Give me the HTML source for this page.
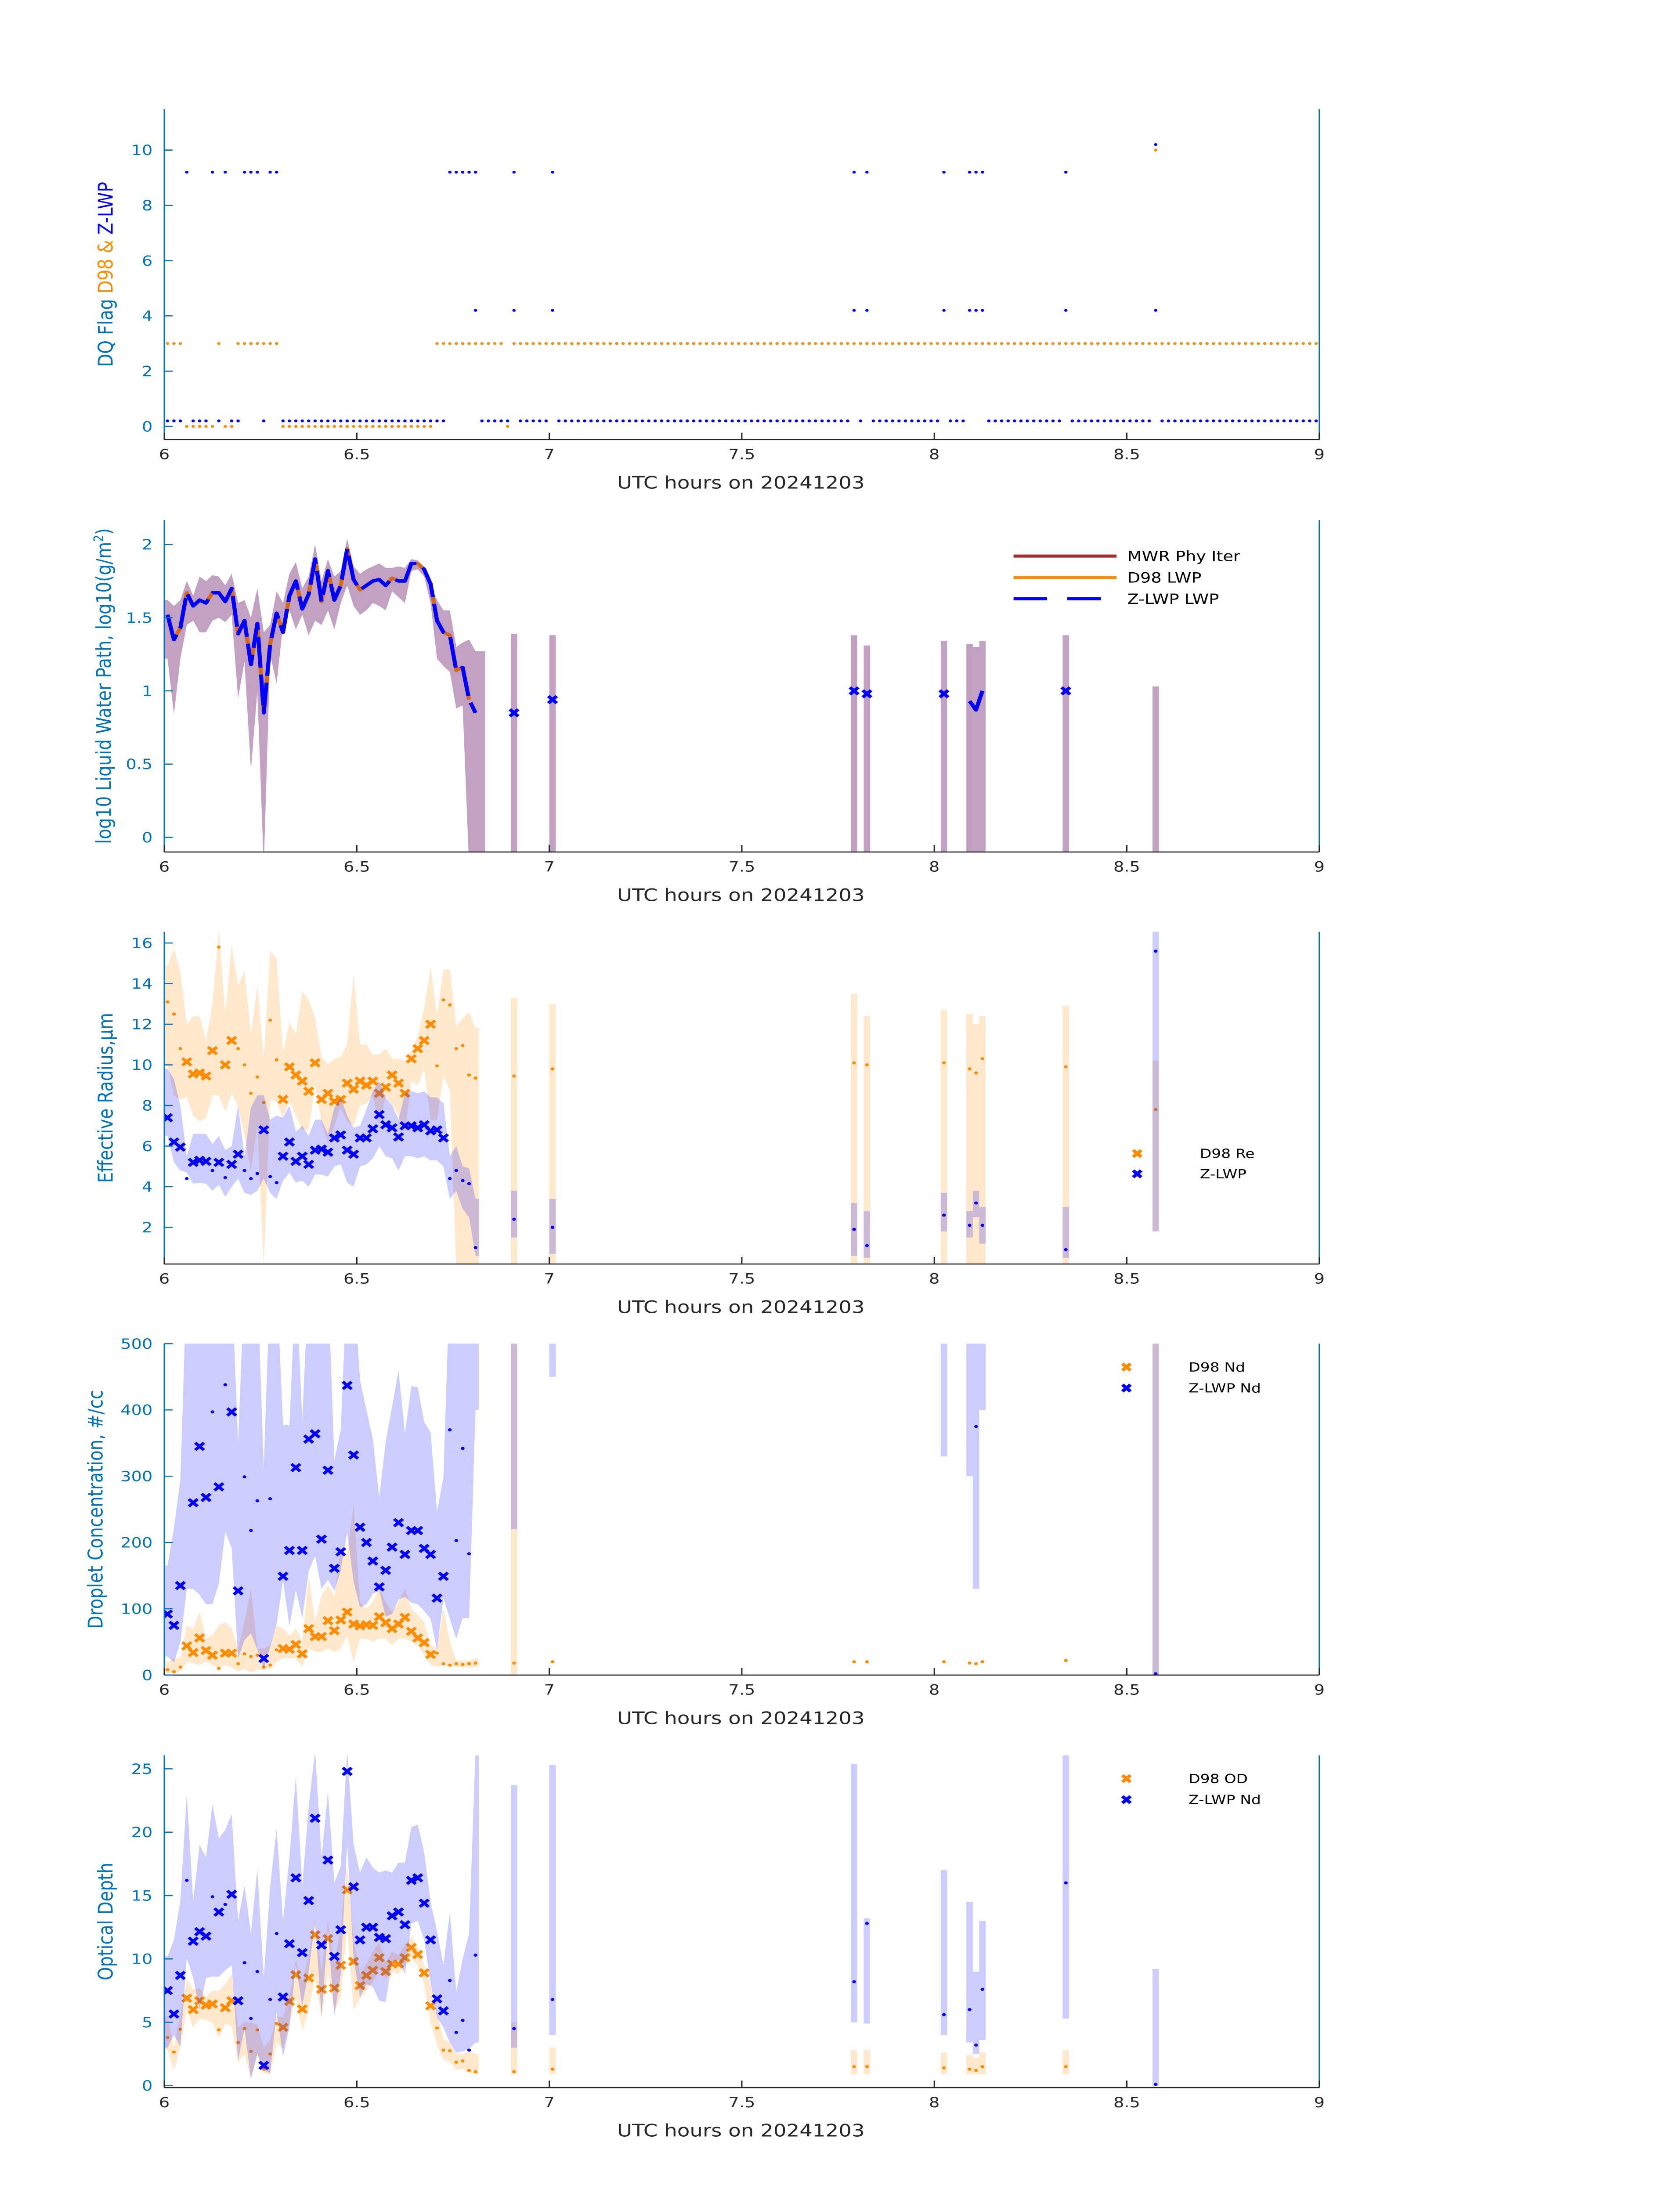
<!DOCTYPE html>
<html><head><meta charset="utf-8"><title>DQ / LWP / Re / Nd / OD</title>
<meta name="viewport" content="width=3825">
<style>
html,body{margin:0;padding:0;background:#fff;width:100vw;height:100vh;overflow:hidden;}
#wrap{position:fixed;left:0;top:0;width:100vw;height:100vh;overflow:hidden;}
svg{display:block;position:absolute;left:0;top:0;width:100vw;height:100vh;font-family:"DejaVu Sans","Liberation Sans",sans-serif;}
</style></head>
<body>
<div id="wrap">
<svg id="fig" xmlns="http://www.w3.org/2000/svg" viewBox="0 0 1000 1568.63" preserveAspectRatio="none">
<rect x="0" y="0" width="1000" height="1568.63" fill="#fff"/>
</svg>
</div>
<script>
// ---------- data (index i -> time 6 + (i+0.5)/60 hours) ----------
const d98FlagRuns = [[3,3],[0,5],[3,1],[0,2],[3,7],[0,24],[3,11],[0,1],[3,126],[2,1]];
const zlwpFlagRuns = [[0.2,3],[9.2,1],[0.2,3],[9.2,1],[0.2,1],[9.2,1],[0.2,2],[9.2,3],[0.2,1],[9.2,2],[0.2,26],[9.2,5],[0.2,5],[9.2,1],[0.2,5],[9.2,1],[0.2,46],[9.2,1],[0.2,1],[9.2,1],[0.2,11],[9.2,1],[0.2,3],[9.2,3],[0.2,12],[9.2,1],[0.2,13],[10.2,1],[0.2,26]];
const zlwpFlag2Idx = [48,54,60,107,109,121,125,126,127,140,154];
const zlwpFlag2Val = [4.2,4.2,4.2,4.2,4.2,4.2,4.2,4.2,4.2,4.2,4.2];
const d98FlagExtraIdx = [154];
const d98FlagExtraVal = [10.0];

const isoIdx = [54,60,107,109,121,125,126,127,140,154];

const lwp = [1.52,1.35,1.43,1.67,1.58,1.62,1.60,1.67,1.67,1.61,1.70,1.39,1.48,1.18,1.46,0.85,1.32,1.53,1.40,1.65,1.75,1.56,1.66,1.90,1.61,1.82,1.62,1.72,1.97,1.76,1.69,1.72,1.75,1.76,1.72,1.77,1.75,1.75,1.87,1.87,1.83,1.73,1.48,1.40,1.38,1.14,1.16,0.94,0.85];
const lwpIso = [0.85,0.94,1.0,0.98,0.98,0.93,0.87,1.0,1.0,null];
const lwpUp = [1.62,1.58,1.62,1.75,1.65,1.78,1.75,1.79,1.78,1.72,1.8,1.6,1.62,1.5,1.7,1.4,1.45,1.68,1.6,1.8,1.88,1.7,1.78,2.0,1.75,1.9,1.78,1.82,2.04,1.85,1.8,1.83,1.85,1.87,1.84,1.84,1.85,1.84,1.9,1.89,1.84,1.72,1.62,1.55,1.55,1.3,1.33,1.35,1.27,1.27];
const lwpLo = [1.22,0.84,1.22,1.45,1.48,1.40,1.40,1.48,1.5,1.47,1.52,0.95,1.2,0.46,1.0,-0.2,1.25,1.05,1.45,1.55,1.42,1.52,1.38,1.48,1.45,1.55,1.42,1.6,1.72,1.58,1.52,1.55,1.6,1.58,1.55,1.68,1.64,1.6,1.82,1.83,1.78,1.60,1.22,1.17,1.13,0.88,0.9,-0.2,-0.2,-0.2];
const lwpIsoUp = [1.39,1.38,1.38,1.31,1.34,1.32,1.3,1.34,1.38,1.03];
const lwpIsoLo = [-0.2,-0.2,-0.2,-0.2,-0.2,-0.2,-0.2,-0.2,-0.2,-0.2];

const d98Re = [13.1,12.5,10.8,10.15,9.55,9.6,9.45,10.7,15.8,10.0,11.2,10.8,10.0,8.6,9.4,8.15,12.2,10.25,8.3,9.9,9.5,9.2,8.7,10.1,8.3,8.6,8.2,8.3,9.1,8.8,9.2,9.0,9.2,8.6,8.9,9.5,9.1,8.6,10.3,10.8,11.2,12.0,9.95,13.2,12.95,10.8,10.95,9.5,9.35];
const zRe = [7.4,6.2,5.95,4.4,5.2,5.3,5.25,4.8,5.2,4.45,5.1,5.6,4.8,4.4,4.65,6.8,4.5,4.2,5.5,6.2,5.25,5.5,5.1,5.8,5.85,5.7,6.4,6.55,5.8,5.6,6.4,6.4,6.85,7.55,7.05,6.9,6.45,7.0,7.0,6.9,7.05,6.75,6.8,6.4,4.4,4.8,4.3,4.15,1.0];
const d98ReIso = [9.45,9.8,10.1,10.0,10.1,9.8,9.6,10.3,9.9,7.8];
const zReIso = [2.4,2.0,1.9,1.1,2.6,2.1,3.2,2.1,0.9,15.6];
const d98ReUp = [14.9,15.7,14.6,12.0,12.4,12.4,11.2,13.0,16.6,12.5,15.9,13.9,14.6,11.5,13.9,10.3,15.6,15.2,10.6,12.1,11.5,13.6,13.2,12.3,10.4,10.0,10.3,10.4,11.0,14.5,11.0,11.0,10.5,10.5,10.8,10.3,10.3,10.2,10.7,11.4,12.8,14.8,12.4,14.7,14.7,11.9,12.3,12.6,11.8];
const d98ReLo = [10.0,8.5,8.3,8.4,7.5,7.2,7.4,8.5,8.5,7.7,8.6,8.0,6.5,4.8,7.0,0.1,8.3,8.2,7.4,8.2,7.5,6.8,6.8,9.0,7.2,6.2,7.0,7.9,7.2,7.0,8.0,8.1,8.5,7.0,8.5,8.0,7.5,6.7,9.2,9.0,9.8,7.3,7.3,9.5,8.7,0.1,0.1,0.1,0.1];
const d98ReIsoUp = [13.3,13.0,13.5,12.4,12.7,12.5,12.0,12.4,12.9,10.2];
const d98ReIsoLo = [0.1,0.1,0.1,0.1,0.1,0.1,0.1,0.1,0.1,1.8];
const zReUp = [9.8,9.3,8.0,5.5,6.6,6.6,6.6,6.1,6.5,5.8,6.0,8.0,5.5,7.9,8.5,8.5,7.3,7.5,7.4,8.0,6.7,7.0,6.5,7.3,7.3,6.6,7.9,8.4,7.5,6.9,7.0,7.8,8.7,9.2,8.4,8.0,7.3,8.6,8.7,8.6,8.7,8.4,8.4,8.1,5.5,6.0,5.0,4.9,3.4];
const zReLo = [6.5,5.2,4.8,4.7,4.15,4.2,4.15,3.8,4.1,3.5,4.0,4.4,3.7,3.6,3.8,4.4,3.7,3.4,4.3,4.7,4.2,4.3,4.0,4.6,4.6,4.5,5.0,5.1,4.2,4.0,5.0,5.1,5.4,6.0,5.5,5.4,4.8,5.5,5.5,5.4,5.5,5.3,5.3,5.0,3.4,3.8,2.9,2.5,0.6];
const zReIsoUp = [3.8,3.4,3.2,2.8,3.7,2.8,3.8,3.0,3.0,16.6];
const zReIsoLo = [1.5,0.7,0.6,0.5,1.8,1.5,2.5,1.2,0.5,1.8];

const zNd = [92,75,135,null,260,345,268,397,284,438,397,127,299,218,263,25,266,null,149,188,313,188,356,364,205,309,161,186,437,332,223,200,172,133,158,193,230,182,218,218,191,182,116,149,370,203,342,183,null];
const d98Nd = [8,5,12,44,34,56,37,30,10,33,33,17,32,28,30,12,15,38,40,39,46,32,70,58,58,82,67,83,95,77,74,76,75,88,79,70,77,87,66,56,49,31,33,17,15,17,16,17,18];
const d98NdIso = [18,20,20,20,20,18,17,20,22,null];
const zNdIso = [null,null,null,null,null,null,375,null,null,2];
const d98NdUp = [20,25,25,75,70,95,55,60,75,80,70,40,80,130,40,40,45,75,70,60,70,50,150,80,120,135,120,190,183,257,110,100,110,130,110,95,110,130,100,90,80,45,40,100,50,22,22,22,25];
const d98NdLo = [3,2,5,20,18,15,20,15,10,15,12,5,10,3,8,8,8,20,25,25,25,12,40,35,35,40,35,40,60,19,55,55,50,55,55,45,55,55,50,45,30,15,12,15,12,12,12,12,12];
const zNdUp = [165,222,294,600,600,600,600,600,600,600,600,349,600,600,600,310,600,600,377,377,600,384,600,600,600,600,324,370,600,600,445,400,356,268,352,405,460,364,436,434,382,366,246,299,600,600,600,600,600];
const zNdLo = [28,19,49,130,130,121,107,107,138,216,192,25,53,63,39,9,42,77,143,74,128,86,157,180,130,144,127,158,216,141,102,107,123,127,88,92,114,118,109,107,97,85,37,116,85,55,86,86,400];
const d98NdIsoUp = [600,null,null,null,null,null,null,null,null,600];
const d98NdIsoLo = [2,null,null,null,null,null,null,null,null,0];
const zNdIsoUp = [600,600,null,null,600,600,600,600,null,600];
const zNdIsoLo = [220,450,null,null,330,300,130,400,null,0];

const zOD = [7.5,5.65,8.7,16.2,11.4,12.15,11.8,14.9,13.7,14.3,15.1,6.7,9.7,5.3,9.0,1.6,6.8,12.0,7.0,11.2,16.4,10.5,14.6,21.1,11.1,17.8,10.2,12.3,24.8,15.7,11.5,12.5,12.5,11.7,11.6,13.4,13.7,12.7,16.2,16.4,14.4,11.5,6.85,5.9,8.3,4.2,5.15,2.8,10.3];
const d98OD = [3.8,2.65,4.45,6.9,6.0,6.7,6.35,6.45,4.4,6.15,6.7,3.4,4.5,2.7,4.4,1.3,2.5,4.9,4.6,6.65,8.75,6.05,8.5,11.9,7.6,11.6,7.7,9.5,15.45,9.8,7.9,8.7,9.1,10.1,9.0,9.6,9.6,10.1,10.9,10.35,8.9,6.3,4.55,2.8,2.75,1.85,1.95,1.2,1.1];
const d98ODIso = [1.1,1.3,1.5,1.5,1.4,1.3,1.2,1.5,1.5,null];
const zODIso = [4.5,6.8,8.2,12.8,5.6,6.0,3.2,7.6,16.0,0.1];
const zODUp = [10.2,11.5,14.6,23.0,14.6,19.0,18.0,22.2,19.5,20.2,21.4,13.0,15.8,12.0,17.1,8.5,15.7,20.3,13.0,18.0,24.4,15.8,22.0,26.5,18.0,23.2,16.0,17.3,26.5,19.0,16.8,18.0,17.2,16.8,17.0,16.8,17.6,17.6,20.4,20.6,18.4,14.5,12.2,9.5,13.7,7.4,10.0,12.0,26.5];
const zODLo = [3.0,4.0,3.1,10.1,8.5,6.0,8.5,8.6,8.6,9.1,9.5,2.0,4.5,0.5,2.5,1.2,1.0,5.8,2.3,4.6,9.5,6.3,9.0,13.0,5.5,12.3,5.5,8.8,19.2,10.0,7.0,8.0,7.8,6.7,6.6,9.8,9.9,8.8,12.8,13.0,11.5,8.1,5.4,4.6,3.4,2.6,2.7,2.9,3.4];
const d98ODUp = [5.5,3.0,5.5,8.4,7.6,7.7,7.0,7.5,7.5,8.0,8.8,4.6,5.0,5.0,4.8,3.0,3.6,5.5,5.4,7.0,9.9,8.1,10.3,13.1,9.0,13.0,9.5,12.5,17.4,11.5,8.8,9.6,10.6,11.3,9.7,10.6,10.3,11.1,11.8,11.0,9.5,7.9,5.7,3.7,3.4,2.5,2.5,2.7,2.5];
const d98ODLo = [2.8,1.2,3.0,6.0,4.6,5.3,5.2,5.0,3.8,4.9,4.7,1.8,2.5,0.6,2.5,1.0,0.9,3.4,2.9,5.0,7.0,4.3,6.0,8.5,5.4,9.0,5.8,7.0,12.5,6.0,6.9,7.5,8.2,9.2,8.5,9.0,8.8,9.5,10.0,9.5,8.0,5.0,3.2,2.0,1.9,1.3,1.3,1.0,0.9];
const zODIsoUp = [23.7,25.3,25.4,13.2,17.0,14.5,9.0,13.0,26.5,9.2];
const zODIsoLo = [3.0,4.0,5.0,4.9,4.0,3.4,2.5,3.6,5.3,0];
const d98ODIsoUp = [5.0,3.0,2.8,2.8,2.6,2.4,2.2,2.6,2.8,null];
const d98ODIsoLo = [0.9,0.9,0.9,0.9,0.9,0.9,0.9,0.9,0.9,null];

const xTicks = [6,6.5,7,7.5,8,8.5,9];
const xTickLabels = ["6","6.5","7","7.5","8","8.5","9"];
const p1Ticks = [0,2,4,6,8,10];
const p2Ticks = [0,0.5,1,1.5,2];
const p2TickLabels = ["0","0.5","1","1.5","2"];
const p3Ticks = [2,4,6,8,10,12,14,16];
const p4Ticks = [0,100,200,300,400,500];
const p5Ticks = [0,5,10,15,20,25];

// ---------- helpers ----------
const NS = "http://www.w3.org/2000/svg";
const svg = document.getElementById('fig');
const BLUE = "#0000ff", ORANGE = "#ff8c00", AXB = "#0072bd", DARK = "#262626";
const X0 = 97.8, X1 = 785.3;
const STEP = (X1 - X0) / 180;
function xs(t){ return X0 + (t - 6) / 3 * (X1 - X0); }
function tOf(i){ return 6 + (i + 0.5) / 60; }
function expandRuns(runs){ const out=[]; runs.forEach(r=>{ for(let k=0;k<r[1];k++) out.push(r[0]); }); return out; }
function mk(tag, attrs, parent){ const e=document.createElementNS(NS,tag); for(const k in attrs) e.setAttribute(k, attrs[k]); parent.appendChild(e); return e; }

const d98Flag = expandRuns(d98FlagRuns);
const zlwpFlag = expandRuns(zlwpFlagRuns);
const defs = mk('defs', {}, svg);

function makePanel(name, top, bottom, a, ya, b, yb, idx){
  const g = mk('g', {}, svg);
  
  
  const cp = mk('clipPath', {id:'clip'+idx}, defs);
  mk('rect', {x:X0, y:top, width:X1-X0, height:bottom-top}, cp);
  const plot = mk('g', {'clip-path':'url(#clip'+idx+')'}, g);
  
  
  return {g, plot, top, bottom, y: v => ya + (v - a) * (yb - ya) / (b - a)};
}

function drawAxes(p, ticks, labels, ylabelParts, ylabelX){
  const g = p.g;
  const ls = mk('line', {x1:X0, y1:p.top, x2:X0, y2:p.bottom, stroke:AXB, 'stroke-width':0.8}, g);
  
  
  const rs = mk('line', {x1:X1, y1:p.top, x2:X1, y2:p.bottom, stroke:AXB, 'stroke-width':0.8}, g);
  
  
  const bs = mk('line', {x1:X0, y1:p.bottom, x2:X1, y2:p.bottom, stroke:DARK, 'stroke-width':0.8}, g);
  
  
  ticks.forEach((v, k) => {
    const yy = p.y(v);
    const tl = mk('line', {x1:X0, y1:yy, x2:X0+5, y2:yy, stroke:AXB, 'stroke-width':0.8}, g);
    
    
    const tx = mk('text', {x:X0-7, y:yy+3.6, 'text-anchor':'end', 'font-size':10, fill:AXB}, g);
    
    
    tx.textContent = labels ? labels[k] : String(v);
  });
  xTicks.forEach((t, k) => {
    const xx = xs(t);
    const tl = mk('line', {x1:xx, y1:p.bottom, x2:xx, y2:p.bottom-5, stroke:DARK, 'stroke-width':0.8}, g);
    
    
    const tx = mk('text', {x:xx, y:p.bottom+14, 'text-anchor':'middle', 'font-size':10, fill:DARK}, g);
    
    
    tx.textContent = xTickLabels[k];
  });
  const xl = mk('text', {x:441, y:p.bottom+35, 'text-anchor':'middle', 'font-size':12.2, fill:DARK}, g);
  
  
  xl.textContent = 'UTC hours on 20241203';
  const cy = (p.top + p.bottom) / 2;
  const yl = mk('text', {x:ylabelX, y:cy, 'text-anchor':'middle', 'font-size':12.2, transform:'rotate(-90 '+ylabelX+' '+cy+')'}, g);
  
  
  ylabelParts.forEach(pt => {
    const ts = mk('tspan', {fill:pt[1]}, yl);
    if (pt[2]) { ts.setAttribute('baseline-shift', 'super'); ts.setAttribute('font-size', '8'); }
    ts.textContent = pt[0];
  });
}

function drawBand(p, up, lo, color, op, name){
  let run = [];
  const flush = () => {
    if (!run.length) return;
    const pts = [];
    const f = run[0], l = run[run.length-1];
    pts.push([xs(tOf(f)) - STEP/2, p.y(up[f])]);
    run.forEach(i => pts.push([xs(tOf(i)), p.y(up[i])]));
    pts.push([xs(tOf(l)) + STEP/2, p.y(up[l])]);
    pts.push([xs(tOf(l)) + STEP/2, p.y(lo[l])]);
    for (let k = run.length-1; k >= 0; k--) pts.push([xs(tOf(run[k])), p.y(lo[run[k]])]);
    pts.push([xs(tOf(f)) - STEP/2, p.y(lo[f])]);
    const pg = mk('polygon', {points: pts.map(q => q[0].toFixed(2)+','+q[1].toFixed(2)).join(' '), fill:color, 'fill-opacity':op}, p.plot);
    
    
    run = [];
  };
  for (let i = 0; i < up.length; i++) {
    if (up[i] == null || lo[i] == null) flush(); else run.push(i);
  }
  flush();
}
function drawIsoBand(p, up, lo, color, op, name){
  isoIdx.forEach((i, k) => {
    if (up[k] == null || lo[k] == null) return;
    const y1 = p.y(up[k]), y2 = p.y(lo[k]);
    const r = mk('rect', {x:xs(tOf(i)) - STEP/2, y:Math.min(y1,y2), width:STEP, height:Math.abs(y2-y1), fill:color, 'fill-opacity':op}, p.plot);
    
    
  });
}
function xMark(parent, cx, cy, color, name, d, sw){
  d = d || 2.6; sw = sw || 2;
  const m = mk('path', {d:`M${cx-d},${cy-d}L${cx+d},${cy+d}M${cx-d},${cy+d}L${cx+d},${cy-d}`, stroke:color, 'stroke-width':sw, fill:'none'}, parent);
  
  
  return m;
}
function dot(parent, cx, cy, color, r, name){
  const c = mk('circle', {cx:cx, cy:cy, r:r, fill:color}, parent);
  
  
  return c;
}
function drawPoints(p, vals, isoVals, good, color, name){
  vals.forEach((v, i) => {
    if (v == null) return;
    if (good(i)) xMark(p.plot, xs(tOf(i)), p.y(v), color, name + '-marker');
    else dot(p.plot, xs(tOf(i)), p.y(v), color, 1.1, name + '-point');
  });
  isoIdx.forEach((i, k) => {
    const v = isoVals[k];
    if (v == null) return;
    if (good(i)) xMark(p.plot, xs(tOf(i)), p.y(v), color, name + '-marker');
    else dot(p.plot, xs(tOf(i)), p.y(v), color, 1.1, name + '-point');
  });
}
const d98Good = i => d98Flag[i] === 0;
const zGood = i => zlwpFlag[i] === 0.2;

function legendX(g, x, y, color, label, name, tx, fs){
  xMark(g, x, y, color, name + '-symbol', 2.4, 2.2);
  const t = mk('text', {x:tx, y:y+3.2, 'font-size':fs, fill:'#000'}, g);
  
  
  t.textContent = label;
}

// ---------- Panel 1: DQ flags ----------
const P1 = makePanel('dq-flag-panel', 78, 314, 0, 304.6, 10, 107.2, 1);
d98Flag.forEach((v, i) => dot(P1.plot, xs(tOf(i)), P1.y(v), ORANGE, 1.0, 'd98-flag-point'));
d98FlagExtraIdx.forEach((i, k) => dot(P1.plot, xs(tOf(i)), P1.y(d98FlagExtraVal[k]), ORANGE, 1.0, 'd98-flag-point'));
zlwpFlag.forEach((v, i) => dot(P1.plot, xs(tOf(i)), P1.y(v), BLUE, 1.0, 'zlwp-flag-point'));
zlwpFlag2Idx.forEach((i, k) => dot(P1.plot, xs(tOf(i)), P1.y(zlwpFlag2Val[k]), BLUE, 1.0, 'zlwp-flag-point'));
drawAxes(P1, p1Ticks, null, [['DQ Flag  ', AXB], ['D98 &  ', ORANGE], ['Z-LWP', BLUE]], 67);

// ---------- Panel 2: LWP ----------
const P2 = makePanel('lwp-panel', 371.5, 608.6, 0, 598.1, 2, 388.9, 2);
drawBand(P2, lwpUp, lwpLo, '#c1a0c1', 1, 'lwp-uncertainty-band');
drawIsoBand(P2, lwpIsoUp, lwpIsoLo, '#c1a0c1', 1, 'lwp-uncertainty-band');
function lwpPath(vals, idxs){
  return idxs.map((i, k) => (k ? 'L' : 'M') + xs(tOf(i)).toFixed(2) + ',' + P2.y(vals[k]).toFixed(2)).join('');
}
const blockIdx = lwp.map((v, i) => i);
const seg2Idx = [125,126,127];
const seg2Val = [lwpIso[5], lwpIso[6], lwpIso[7]];
const od = mk('path', {d: lwpPath(lwp.slice(0,48), blockIdx.slice(0,48)) + lwpPath(seg2Val, seg2Idx), stroke:'#d2691e', 'stroke-width':2.4, fill:'none', 'stroke-linejoin':'round'}, P2.plot);


const zd = mk('path', {d: lwpPath(lwp, blockIdx) + lwpPath(seg2Val, seg2Idx), stroke:BLUE, 'stroke-width':2.4, fill:'none', 'stroke-dasharray':'22,5', 'stroke-linejoin':'round'}, P2.plot);


isoIdx.forEach((i, k) => {
  if (lwpIso[k] == null || seg2Idx.includes(i)) return;
  xMark(P2.plot, xs(tOf(i)), P2.y(lwpIso[k]), BLUE, 'zlwp-lwp-marker', 2.5, 2.2);
});
drawAxes(P2, p2Ticks, p2TickLabels, [['log10 Liquid Water Path, log10(g/m', AXB], ['2', AXB, true], [')', AXB]], 66);
const lg2 = mk('g', {}, P2.g);


[['#a52a2a', 'MWR Phy Iter', 397.2, null], [ORANGE, 'D98 LWP', 412.6, null], [BLUE, 'Z-LWP LWP', 427.7, '20,12']].forEach(e => {
  const ln = mk('line', {x1:603.3, y1:e[2], x2:664.6, y2:e[2], stroke:e[0], 'stroke-width':2.2}, lg2);
  if (e[3]) ln.setAttribute('stroke-dasharray', e[3]);
  
  
  const t = mk('text', {x:671, y:e[2]+3.6, 'font-size':10, fill:'#000'}, lg2);
  
  
  t.textContent = e[1];
});

// ---------- Panel 3: Effective radius ----------
const P3 = makePanel('effective-radius-panel', 665.6, 902.9, 2, 876.7, 16, 673.6, 3);
drawBand(P3, d98ReUp, d98ReLo, ORANGE, 0.2, 'd98-re-band');
drawIsoBand(P3, d98ReIsoUp, d98ReIsoLo, ORANGE, 0.2, 'd98-re-band');
drawPoints(P3, d98Re, d98ReIso, d98Good, ORANGE, 'd98-re');
drawBand(P3, zReUp, zReLo, BLUE, 0.2, 'zlwp-re-band');
drawIsoBand(P3, zReIsoUp, zReIsoLo, BLUE, 0.2, 'zlwp-re-band');
drawPoints(P3, zRe, zReIso, zGood, BLUE, 'zlwp-re');
drawAxes(P3, p3Ticks, null, [['Effective Radius,\u03bcm', AXB]], 67);
const lg3 = mk('g', {}, P3.g);


legendX(lg3, 676.9, 824, ORANGE, 'D98 Re', 'legend-d98-re', 714.2, 9);
legendX(lg3, 676.9, 838.5, BLUE, 'Z-LWP', 'legend-zlwp-re', 714.2, 9);

// ---------- Panel 4: Droplet concentration ----------
const P4 = makePanel('droplet-concentration-panel', 959.8, 1196.5, 0, 1196.5, 500, 959.8, 4);
drawBand(P4, d98NdUp, d98NdLo, ORANGE, 0.2, 'd98-nd-band');
drawIsoBand(P4, d98NdIsoUp, d98NdIsoLo, ORANGE, 0.2, 'd98-nd-band');
drawPoints(P4, d98Nd, d98NdIso, d98Good, ORANGE, 'd98-nd');
drawBand(P4, zNdUp, zNdLo, BLUE, 0.2, 'zlwp-nd-band');
drawIsoBand(P4, zNdIsoUp, zNdIsoLo, BLUE, 0.2, 'zlwp-nd-band');
drawPoints(P4, zNd, zNdIso, zGood, BLUE, 'zlwp-nd');
drawAxes(P4, p4Ticks, null, [['Droplet Concentration, #/cc', AXB]], 61);
const lg4 = mk('g', {}, P4.g);


legendX(lg4, 670.5, 976.5, ORANGE, 'D98 Nd', 'legend-d98-nd', 707.5, 9);
legendX(lg4, 670.5, 991.5, BLUE, 'Z-LWP Nd', 'legend-zlwp-nd', 707.5, 9);

// ---------- Panel 5: Optical depth ----------
const P5 = makePanel('optical-depth-panel', 1253.9, 1491.2, 0, 1489.8, 25, 1263.5, 5);
drawBand(P5, d98ODUp, d98ODLo, ORANGE, 0.2, 'd98-od-band');
drawIsoBand(P5, d98ODIsoUp, d98ODIsoLo, ORANGE, 0.2, 'd98-od-band');
drawPoints(P5, d98OD, d98ODIso, d98Good, ORANGE, 'd98-od');
drawBand(P5, zODUp, zODLo, BLUE, 0.2, 'zlwp-od-band');
drawIsoBand(P5, zODIsoUp, zODIsoLo, BLUE, 0.2, 'zlwp-od-band');
drawPoints(P5, zOD, zODIso, zGood, BLUE, 'zlwp-od');
drawAxes(P5, p5Ticks, null, [['Optical Depth', AXB]], 67);
const lg5 = mk('g', {}, P5.g);


legendX(lg5, 670.5, 1270.5, ORANGE, 'D98 OD', 'legend-d98-od', 707.5, 9);
legendX(lg5, 670.5, 1285.5, BLUE, 'Z-LWP Nd', 'legend-zlwp-od', 707.5, 9);
</script>
</body></html>
